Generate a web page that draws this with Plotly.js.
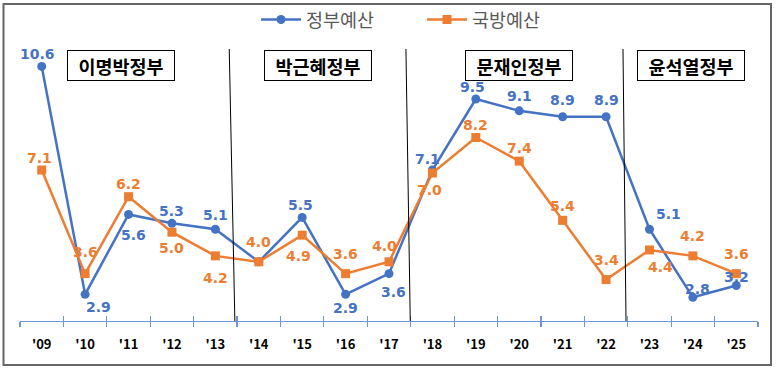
<!DOCTYPE html>
<html><head><meta charset="utf-8">
<script src="https://cdn.plot.ly/plotly-3.0.1.min.js"></script>
<style>html,body{margin:0;padding:0;background:#fff}#chart{width:776px;height:369px}</style>
</head><body><div id="chart"></div>
<script>
const years = ["'09","'10","'11","'12","'13","'14","'15","'16","'17","'18","'19","'20","'21","'22","'23","'24","'25"];
const govBudget = [10.6,2.9,5.6,5.3,5.1,4.0,5.5,2.9,3.6,7.1,9.5,9.1,8.9,8.9,5.1,2.8,3.2];
const defBudget = [7.1,3.6,6.2,5.0,4.2,4.0,4.9,3.6,4.0,7.0,8.2,7.4,5.4,3.4,4.4,4.2,3.6];
const seriesNames = ["정부예산","국방예산"];
const eras = ["이명박정부","박근혜정부","문재인정부","윤석열정부"];

const BLUE = '#4472C4', ORANGE = '#ED7D31';
const W = 738, H = 321, L = 20, T = 0;
const PPU = 29.6;            // px per unit
const YMIN = 2, YMAX = YMIN + H / PPU;
const px = v => (v - L) / W;
const py = v => (T + H - v) / H;
const yv = p => YMIN + (T + H - p) / PPU;

// label offsets (style only): [dx, dy] in px, null = no label
const govOff = [[-4,-12],[13,13],[5,21],[0,-12],[0,-14],null,[-2,-12],[0,14],[4,18],[-5,-11],[-3,-12],[0,-15],[0,-17],[0,-17],[19,-15],[5,-8],[0,-8]];
const defOff = [[-2,-12],[0,-22],[0,-13],[0,16],[0,22],[0,-20],[-4,21],[0,-20],[-5,-16],[-3,17],[0,-12],[0,-13],[0,-14],[0,-20],[11,17],[0,-20],[0,-20]];

const annotations = [];
function addLabels(vals, offs, color){
  vals.forEach((v,i)=>{
    if(!offs[i]) return;
    annotations.push({xref:'x', yref:'y', x:years[i], y:v, text:v.toFixed(1), showarrow:false,
      xanchor:'center', yanchor:'middle',
      xshift:offs[i][0], yshift:-offs[i][1],
      font:{family:'DejaVu Sans', size:14, color:color, weight:'bold'}});
  });
}
addLabels(govBudget, govOff, BLUE);
addLabels(defBudget, defOff, ORANGE);

const eraCenters = [120.5, 318, 519, 691];
eras.forEach((t,i)=>{
  annotations.push({xref:'paper', yref:'paper', x:px(eraCenters[i]), y:py(65.5), xanchor:'center', yanchor:'middle',
    text:t, showarrow:false,
    width:104, height:27, bordercolor:'#000', borderwidth:1, bgcolor:'#fff',
    font:{family:'Noto Sans CJK KR', size:18.5, color:'#000', weight:'bold'}});
});

const dividers = [[4.32,4.45],[8.39,8.49],[13.39,13.46]];
const shapes = dividers.map(d=>({type:'line', xref:'x', yref:'y', x0:d[1], x1:d[0], y0:yv(322), y1:yv(49), line:{color:'#000', width:1}}));
shapes.push({type:'rect', xref:'paper', yref:'paper', x0:px(3.5), x1:px(771), y0:py(365), y1:py(4), line:{color:'#666', width:2}});

const traces = [
  {x:years, y:govBudget, name:seriesNames[0], type:'scatter', mode:'lines+markers',
   line:{color:BLUE, width:2.5}, marker:{symbol:'circle', size:9, color:BLUE}},
  {x:years, y:defBudget, name:seriesNames[1], type:'scatter', mode:'lines+markers',
   line:{color:ORANGE, width:2.5}, marker:{symbol:'square', size:9, color:ORANGE}},
  {x:years, y:years.map(()=>null), xaxis:'x2', showlegend:false, hoverinfo:'skip', mode:'lines'}
];

const axisCol = '#6E95D8';
const layout = {
  width:776, height:369,
  margin:{l:L, r:776-L-W, t:T, b:369-T-H},
  paper_bgcolor:'#fff', plot_bgcolor:'rgba(0,0,0,0)',
  showlegend:true,
  legend:{orientation:'h', x:px(256), xanchor:'left', y:py(20), yanchor:'middle',
    font:{family:'Noto Sans CJK KR', size:18.5, color:'#595959'}, itemwidth:40, entrywidth:111,
    bgcolor:'rgba(0,0,0,0)'},
  xaxis:{type:'category', categoryarray:years, range:[-0.5,16.5], showline:true, linecolor:axisCol, linewidth:1.2,
    ticks:'outside', tickson:'boundaries', ticklen:5, tickcolor:axisCol, tickwidth:1.2,
    showgrid:false, zeroline:false, ticklabelstandoff:11,
    tickfont:{family:'Noto Sans CJK KR', size:13, color:'#000', weight:'bold'}},
  xaxis2:{type:'category', categoryarray:years, range:[-0.5,16.5], overlaying:'x', anchor:'y', side:'bottom',
    ticks:'inside', tickson:'boundaries', ticklen:5, tickcolor:axisCol, tickwidth:1.2,
    showticklabels:false, showline:false, showgrid:false, zeroline:false},
  yaxis:{range:[YMIN, YMAX], visible:false, showgrid:false, zeroline:false},
  annotations:annotations,
  shapes:shapes,
  hovermode:false
};
Plotly.newPlot('chart', traces, layout, {staticPlot:true, displayModeBar:false});
</script></body></html>
